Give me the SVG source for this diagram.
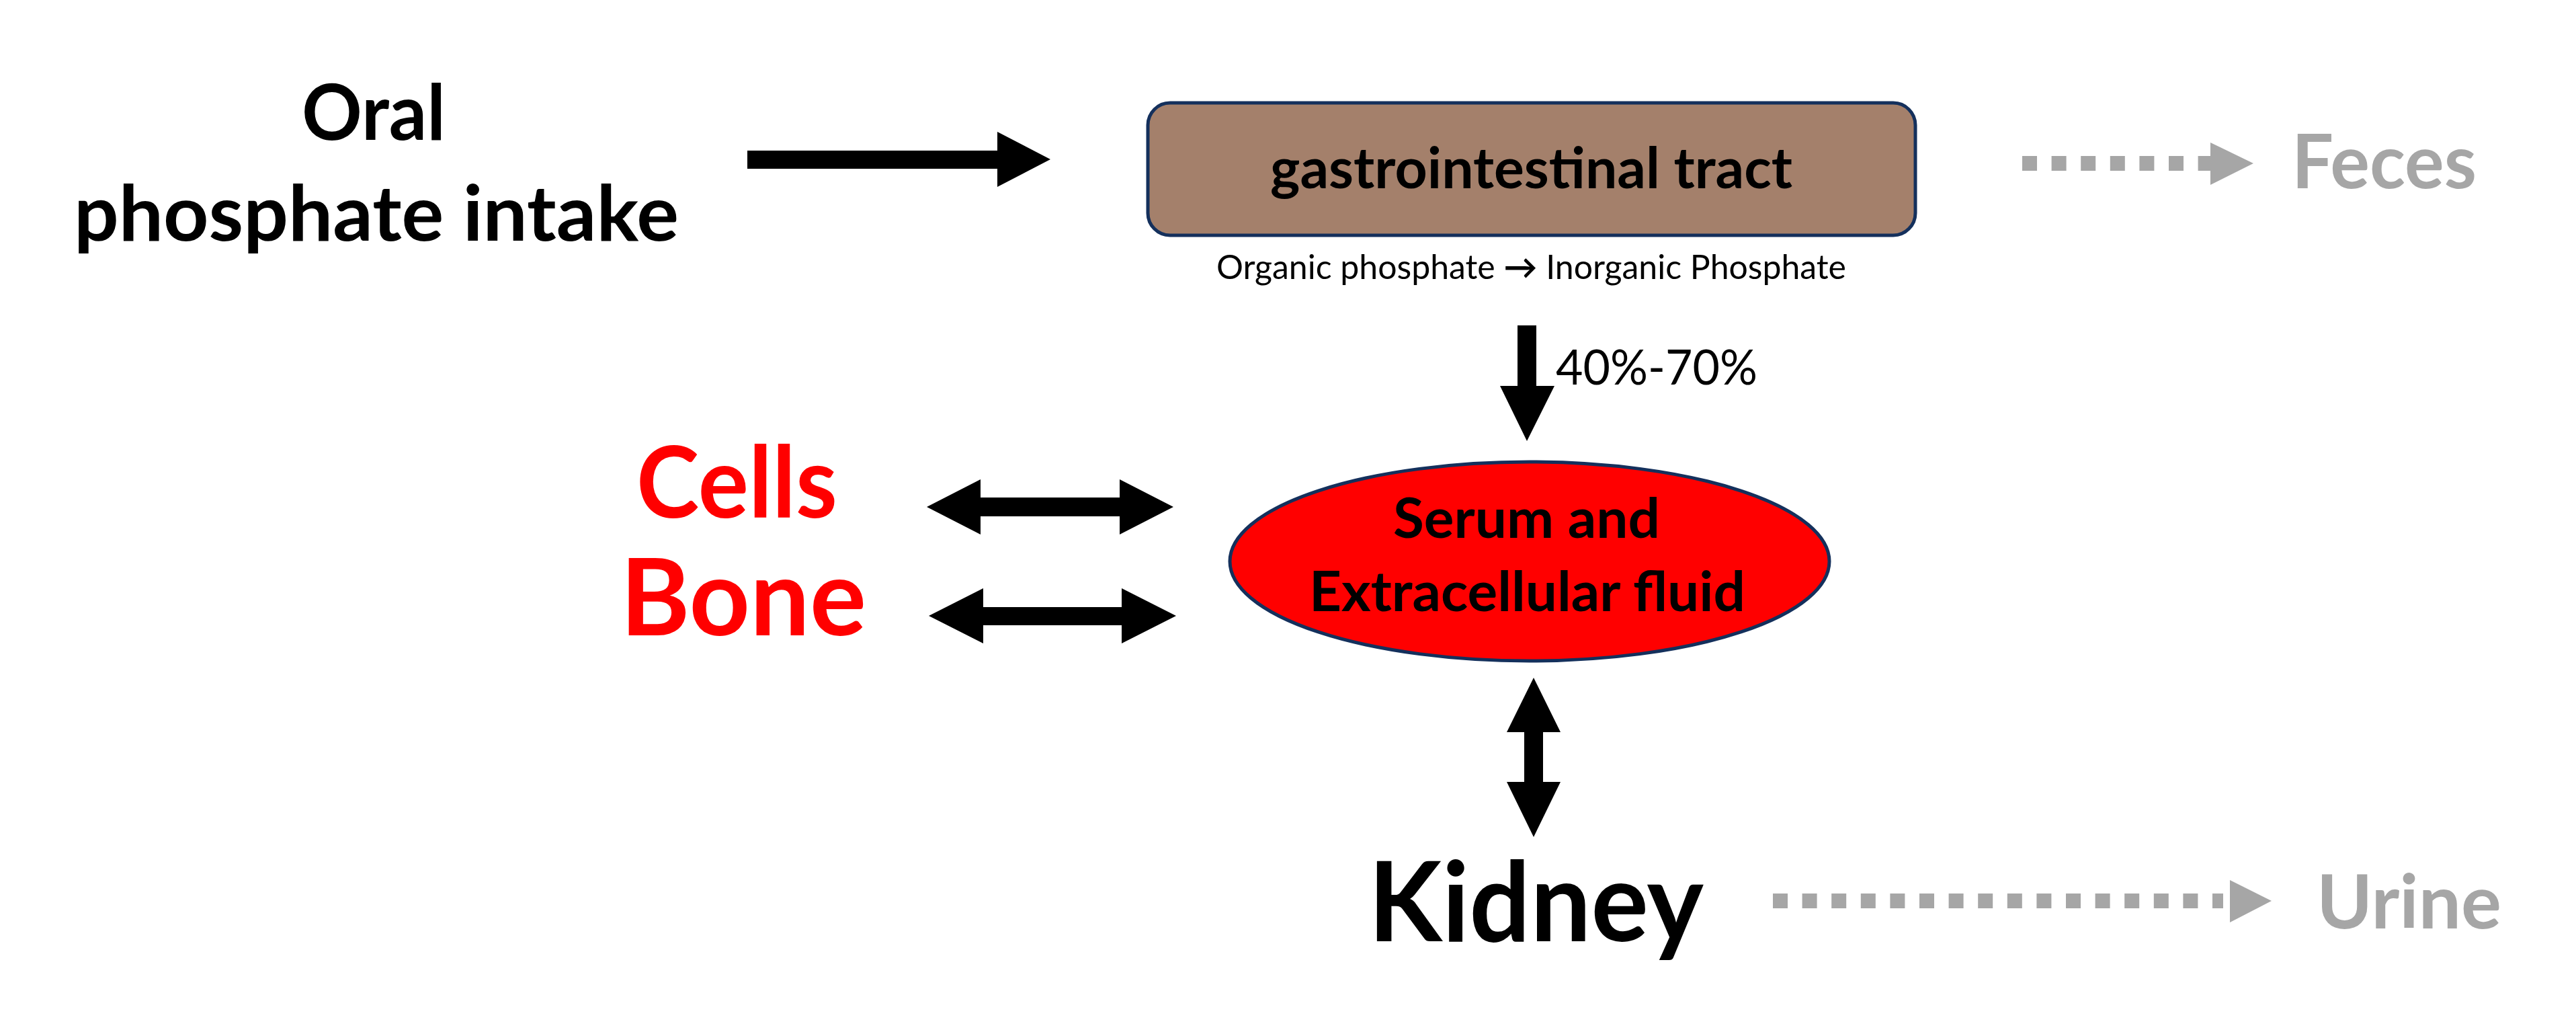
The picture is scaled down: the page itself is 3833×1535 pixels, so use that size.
<svg xmlns="http://www.w3.org/2000/svg" width="3833" height="1535" viewBox="0 0 3833 1535">
<style>
  text { font-family: "Lato", "Open Sans", "Liberation Sans", sans-serif; }
  .b { font-weight: 700; }
  .blk { fill: #000000; }
  .red { fill: #FF0000; }
  .gry { fill: #A6A6A6; }
  .arrow { fill: #000000; }
  .dots { stroke: #A6A6A6; stroke-width: 22; stroke-dasharray: 22 21.6; fill: none; }
  .head { fill: #A6A6A6; }
</style>
<rect x="0" y="0" width="3833" height="1535" fill="#FFFFFF"/>

<g id="connectors">
  <polygon class="arrow" points="1112,224 1484,224 1484,196 1563,237 1484,278 1484,251 1112,251"/>
  <polygon class="arrow" points="2258,484 2286,484 2286,574 2313,574 2272,656 2232,574 2258,574"/>
  <polygon class="arrow" points="1379,754 1459,713 1459,740 1666,740 1666,713 1746,754 1666,795 1666,768 1459,768 1459,795"/>
  <polygon class="arrow" points="1382,916 1463,875 1463,903 1669,903 1669,875 1750,916 1669,957 1669,930 1463,930 1463,957"/>
  <polygon class="arrow" points="2282,1008 2322,1089 2296,1089 2296,1163 2322,1163 2282,1245 2242,1163 2268,1163 2268,1089 2242,1089"/>
  <line class="dots" x1="3009" y1="243" x2="3291" y2="243"/>
  <polygon class="head" points="3289,212 3353,243 3289,275"/>
  <line class="dots" x1="2638" y1="1340" x2="3308" y2="1340"/>
  <polygon class="head" points="3318,1309 3380,1340 3318,1372"/>
</g>

<g id="oral">
  <text class="b blk" x="449" y="208" font-size="114" textLength="214" lengthAdjust="spacingAndGlyphs">Oral</text>
  <text class="b blk" x="110" y="358" font-size="114" textLength="900" lengthAdjust="spacingAndGlyphs">phosphate intake</text>
</g>

<g id="gi-tract">
  <rect x="1708" y="153" width="1142" height="197" rx="33" ry="33" fill="#A4806B" stroke="#14305C" stroke-width="5"/>
  <text class="b blk" x="1890" y="280" font-size="84" textLength="777" lengthAdjust="spacingAndGlyphs">gastrointestinal tract</text>
  <text class="blk" x="1810" y="415" font-size="50" textLength="937" lengthAdjust="spacingAndGlyphs">Organic phosphate <tspan font-weight="700">→</tspan> Inorganic Phosphate</text>
</g>

<g id="feces">
  <text class="b gry" x="3410" y="280" font-size="112" textLength="275" lengthAdjust="spacingAndGlyphs">Feces</text>
</g>

<g id="absorption-label">
  <text class="blk" x="2315" y="572" font-size="72" textLength="300" lengthAdjust="spacingAndGlyphs">40%-70%</text>
</g>

<g id="cells-bone">
  <text class="b red" x="947" y="770" font-size="147" textLength="299" lengthAdjust="spacingAndGlyphs">Cells</text>
  <text class="b red" x="923" y="945" font-size="160" textLength="366" lengthAdjust="spacingAndGlyphs">Bone</text>
</g>

<g id="serum">
  <ellipse cx="2276" cy="835" rx="446" ry="148" fill="#FF0000" stroke="#14305C" stroke-width="5"/>
  <text class="b blk" x="2073" y="800" font-size="82" textLength="397" lengthAdjust="spacingAndGlyphs">Serum and</text>
  <text class="b blk" x="1948" y="909" font-size="83" textLength="649" lengthAdjust="spacingAndGlyphs">Extracellular fluid</text>
</g>

<g id="kidney">
  <text class="b blk" x="2036" y="1400" font-size="164" textLength="499" lengthAdjust="spacingAndGlyphs">Kidney</text>
</g>

<g id="urine">
  <text class="b gry" x="3447" y="1381" font-size="112" textLength="275" lengthAdjust="spacingAndGlyphs">Urine</text>
</g>
</svg>
